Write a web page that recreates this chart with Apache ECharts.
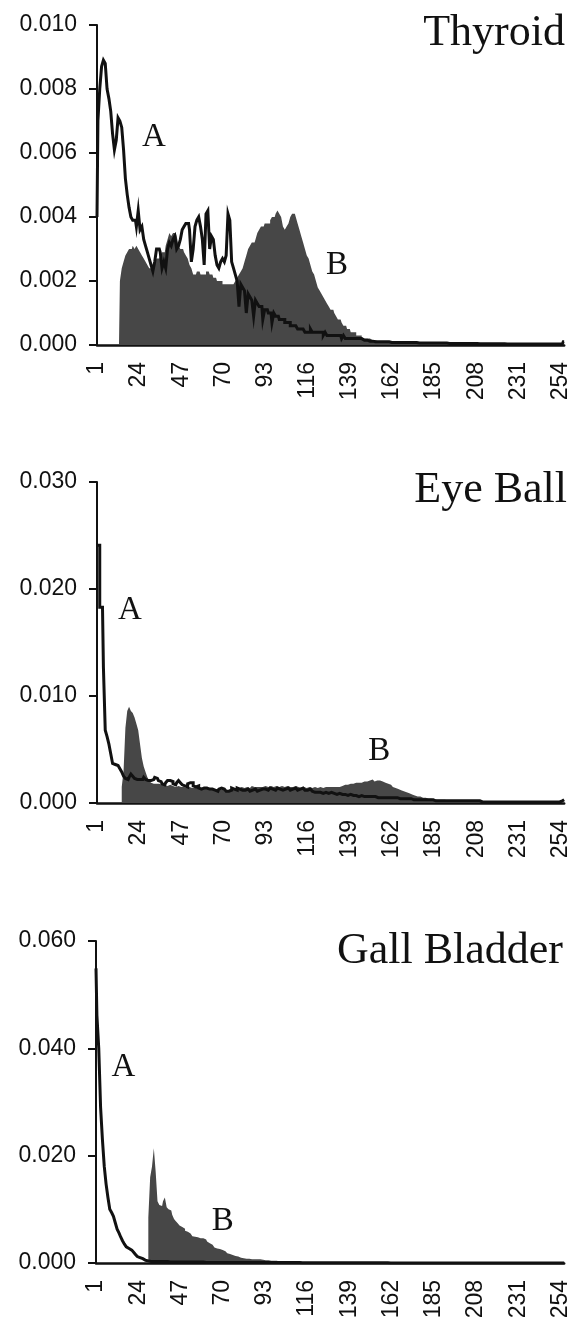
<!DOCTYPE html>
<html>
<head>
<meta charset="utf-8">
<title>Histograms A / B</title>
<script src="https://cdn.jsdelivr.net/npm/echarts/dist/echarts.min.js"></script>
<style>
  html, body { margin: 0; padding: 0; background: #fff; }
  #chart { width: 572px; height: 1330px; }
</style>
</head>
<body>
<div id="chart"></div>
<script>
// Grey-level bins 1..256; every 23rd bin is labelled (1, 24, 47, ... 254).
const bins = Array.from({ length: 256 }, (_, i) => String(i + 1));
const binLabelStep = 23;

// ---- Thyroid ----
const thyroidA = [
  0.0040,0.0070,0.0080,0.0087,0.0089,0.0088,0.0080,0.0077,0.0073,0.0066,0.0061,0.0064,0.0071,0.0070,0.0068,0.0061,
  0.0052,0.0047,0.0043,0.0040,0.0039,0.0039,0.0037,0.0042,0.0036,0.0037,0.0033,0.0031,0.0029,0.0027,0.0025,0.0023,
  0.0026,0.0030,0.0030,0.0029,0.0024,0.0026,0.0024,0.0030,0.0032,0.0031,0.0033,0.0034,0.0030,0.0031,0.0033,0.0036,
  0.0037,0.0038,0.0038,0.0036,0.0026,0.0030,0.0037,0.0039,0.0040,0.0037,0.0033,0.0025,0.0041,0.0042,0.0030,0.0034,
  0.0033,0.0028,0.0025,0.0024,0.0026,0.0027,0.0026,0.0028,0.0041,0.0039,0.0026,0.0024,0.0022,0.0020,0.0012,0.0019,
  0.0018,0.0017,0.0010,0.0016,0.0015,0.0014,0.0009,0.0014,0.0013,0.0012,0.0012,0.0008,0.0011,0.0011,0.0010,0.0010,
  0.0007,0.0010,0.0009,0.0009,0.0008,0.0008,0.0008,0.0007,0.0007,0.0007,0.0006,0.0006,0.0006,0.0006,0.0005,0.0005,
  0.0005,0.0005,0.0004,0.0004,0.0004,0.0005,0.0004,0.0004,0.0004,0.0004,0.0004,0.0004,0.0003,0.0004,0.0003,0.0003,
  0.0003,0.0003,0.0003,0.0003,0.0003,0.0003,0.0002,0.0003,0.0002,0.0002,0.0002,0.0002,0.0002,0.0002,0.0002,0.0002,
  0.0002,0.00015,0.00015,0.00015,0.00015,0.00012,0.00012,0.00012,0.0001,0.0001,0.0001,0.0001,0.0001,0.0001,0.0001,0.0001,
  0.00008,0.00008,0.00008,0.00008,0.00008,0.00008,0.00008,0.00008,0.00008,0.00008,0.00008,0.00008,0.00008,0.00008,0.00008,0.00008,
  0.00006,0.00006,0.00006,0.00006,0.00006,0.00006,0.00006,0.00006,0.00006,0.00006,0.00006,0.00006,0.00006,0.00006,0.00006,0.00006,
  0.00005,0.00005,0.00005,0.00005,0.00005,0.00005,0.00005,0.00005,0.00005,0.00005,0.00005,0.00005,0.00005,0.00005,0.00005,0.00005,
  0.00004,0.00004,0.00004,0.00004,0.00004,0.00004,0.00004,0.00004,0.00004,0.00004,0.00004,0.00004,0.00004,0.00004,0.00004,0.00004,
  0.00003,0.00003,0.00003,0.00003,0.00003,0.00003,0.00003,0.00003,0.00003,0.00003,0.00003,0.00003,0.00003,0.00003,0.00003,0.00003,
  0.00003,0.00003,0.00003,0.00003,0.00003,0.00003,0.00003,0.00003,0.00003,0.00003,0.00003,0.00003,0.00003,0.00003,0.00003,0.0001
];
const thyroidB = [
  0,0,0,0,0,0,0,0,0,0,0,0,0,0.0020,0.0024,0.0026,
  0.0028,0.0029,0.0030,0.0030,0.0031,0.0030,0.0031,0.0030,0.0029,0.0028,0.0027,0.0026,0.0025,0.0024,0.0024,0.0025,
  0.0026,0.0027,0.0027,0.0028,0.0029,0.0029,0.0031,0.0033,0.0035,0.0034,0.0035,0.0035,0.0034,0.0031,0.0030,0.0030,
  0.0029,0.0028,0.0027,0.0025,0.0024,0.0022,0.0022,0.0023,0.0023,0.0022,0.0022,0.0022,0.0023,0.0023,0.0022,0.0022,
  0.0021,0.0021,0.0020,0.0020,0.0020,0.0019,0.0019,0.0019,0.0019,0.0019,0.0019,0.0019,0.0020,0.0021,0.0022,0.0023,
  0.0024,0.0026,0.0028,0.0030,0.0031,0.0032,0.0032,0.0033,0.0035,0.0036,0.0037,0.0037,0.0038,0.0038,0.0038,0.0039,
  0.0040,0.0040,0.0041,0.0042,0.0041,0.0040,0.0037,0.0036,0.0037,0.0038,0.0040,0.0041,0.0041,0.0040,0.0038,0.0036,
  0.0034,0.0032,0.0030,0.0028,0.0027,0.0025,0.0023,0.0022,0.0020,0.0018,0.0017,0.0016,0.0015,0.0014,0.0013,0.0012,
  0.0011,0.0011,0.0010,0.0009,0.0008,0.0008,0.0007,0.0006,0.0006,0.0005,0.0005,0.0004,0.0004,0.0004,0.0003,0.0003,
  0.0003,0.0002,0.0002,0.0002,0.0002,0.0002,0.00015,0.00015,0.00015,0.00012,0.00012,0.00012,0.0001,0.0001,0.0001,0.0001,
  0.0001,0.0001,0.0001,0.0001,0.00008,0.00008,0.00008,0.00008,0.00008,0.00008,0.00008,0.00008,0.00008,0.00008,0.00008,0.00008,
  0.00006,0.00006,0.00006,0.00006,0.00006,0.00006,0.00006,0.00006,0.00006,0.00006,0.00006,0.00006,0.00006,0.00006,0.00006,0.00006,
  0.00004,0.00004,0.00004,0.00004,0.00004,0.00004,0.00004,0.00004,0.00004,0.00004,0.00004,0.00004,0.00004,0.00004,0.00004,0.00004,
  0.00002,0.00002,0.00002,0.00002,0.00002,0.00002,0.00002,0.00002,0.00002,0.00002,0.00002,0.00002,0.00002,0.00002,0.00002,0.00002,
  0,0,0,0,0,0,0,0,0,0,0,0,0,0,0,0,
  0,0,0,0,0,0,0,0,0,0,0,0,0,0,0,0
];

// ---- Eye Ball ----
const eyeA = [
  0.0241,0.0241,0.0183,0.0183,0.0127,0.0068,0.0062,0.0055,0.0046,0.0037,0.0036,0.0035,0.0034,0.0032,0.0029,0.0025,
  0.0023,0.0022,0.0024,0.0027,0.0025,0.0023,0.0022,0.0022,0.0021,0.0022,0.0024,0.0022,0.0021,0.0021,0.0020,0.0022,
  0.0024,0.0023,0.0021,0.0020,0.0018,0.0017,0.0019,0.0021,0.0021,0.0020,0.0018,0.0017,0.0019,0.0021,0.0019,0.0017,
  0.0016,0.0015,0.0018,0.0019,0.0019,0.0016,0.0015,0.0016,0.0014,0.0013,0.0014,0.0015,0.0014,0.0013,0.0012,0.0013,
  0.0012,0.0011,0.0011,0.0013,0.0014,0.0013,0.0012,0.0011,0.0011,0.0012,0.0014,0.0013,0.0012,0.0014,0.0013,0.0012,
  0.0011,0.0012,0.0013,0.0012,0.0011,0.0012,0.0013,0.0012,0.0011,0.0012,0.0013,0.0014,0.0013,0.0012,0.0013,0.0014,
  0.0013,0.0012,0.0013,0.0014,0.0013,0.0012,0.0012,0.0013,0.0014,0.0013,0.0012,0.0013,0.0014,0.0013,0.0012,0.0013,
  0.0014,0.0013,0.0012,0.0012,0.0013,0.0012,0.0011,0.0010,0.0010,0.0011,0.0010,0.0009,0.0010,0.0010,0.0009,0.0009,
  0.0010,0.0009,0.0009,0.0008,0.0009,0.0009,0.0008,0.0008,0.0008,0.0007,0.0008,0.0007,0.0007,0.0007,0.0007,0.0006,
  0.0007,0.0006,0.0006,0.0006,0.0006,0.0006,0.0006,0.0005,0.0006,0.0005,0.0005,0.0005,0.0005,0.0005,0.0005,0.0005,
  0.0005,0.0005,0.0005,0.0005,0.0005,0.0004,0.0005,0.0004,0.0004,0.0004,0.0004,0.0004,0.0003,0.0003,0.0003,0.0003,
  0.0003,0.0003,0.0003,0.0003,0.0003,0.0003,0.0003,0.0003,0.0003,0.0002,0.0002,0.0002,0.0002,0.0002,0.0002,0.0002,
  0.0002,0.0002,0.0002,0.0002,0.0002,0.0002,0.0002,0.0002,0.0002,0.0002,0.0002,0.0002,0.0002,0.0002,0.0002,0.0002,
  0.0002,0.0002,0.0001,0.0001,0.0001,0.0001,0.0001,0.0001,0.0001,0.0001,0.0001,0.0001,0.0001,0.0001,0.0001,0.0001,
  0.0001,0.0001,0.0001,0.0001,0.0001,0.0001,0.0001,0.0001,0.0001,0.0001,0.0001,0.0001,0.0001,0.0001,0.0001,0.0001,
  0.0001,0.0001,0.0001,0.0001,0.0001,0.0001,0.0001,0.0001,0.0001,0.0001,0.0001,0.0001,0.0001,0.0001,0.0002,0.0003
];
const eyeB = [
  0,0,0,0,0,0,0,0,0,0,0,0,0,0,0.0015,0.0030,
  0.0070,0.0086,0.0090,0.0086,0.0084,0.0080,0.0074,0.0068,0.0055,0.0042,0.0034,0.0029,0.0024,0.0021,0.0019,0.0018,
  0.0018,0.0019,0.0018,0.0017,0.0018,0.0017,0.0016,0.0017,0.0017,0.0016,0.0016,0.0015,0.0016,0.0016,0.0015,0.0015,
  0.0015,0.0014,0.0015,0.0015,0.0014,0.0014,0.0015,0.0014,0.0013,0.0014,0.0014,0.0013,0.0013,0.0014,0.0013,0.0013,
  0.0012,0.0013,0.0013,0.0012,0.0013,0.0013,0.0012,0.0012,0.0013,0.0013,0.0014,0.0014,0.0013,0.0014,0.0014,0.0015,
  0.0014,0.0015,0.0015,0.0014,0.0015,0.0016,0.0015,0.0015,0.0016,0.0015,0.0015,0.0016,0.0016,0.0015,0.0016,0.0016,
  0.0015,0.0016,0.0016,0.0015,0.0015,0.0016,0.0015,0.0015,0.0016,0.0015,0.0015,0.0015,0.0016,0.0015,0.0015,0.0014,
  0.0015,0.0015,0.0014,0.0015,0.0015,0.0014,0.0014,0.0015,0.0014,0.0014,0.0015,0.0014,0.0014,0.0015,0.0015,0.0014,
  0.0015,0.0015,0.0014,0.0015,0.0015,0.0016,0.0016,0.0017,0.0017,0.0017,0.0018,0.0018,0.0018,0.0019,0.0019,0.0019,
  0.0019,0.0020,0.0020,0.0020,0.0021,0.0021,0.0022,0.0021,0.0020,0.0021,0.0021,0.0021,0.0020,0.0019,0.0018,0.0018,
  0.0017,0.0016,0.0015,0.0014,0.0013,0.0013,0.0012,0.0011,0.0011,0.0010,0.0009,0.0009,0.0008,0.0007,0.0007,0.0006,
  0.0006,0.0005,0.0005,0.0005,0.0004,0.0004,0.0004,0.0004,0.0003,0.0003,0.0003,0.0003,0.0003,0.0003,0.0003,0.0002,
  0.0002,0.0002,0.0002,0.0002,0.0002,0.0002,0.0002,0.0002,0.0002,0.0002,0.0002,0.0002,0.0002,0.0002,0.0002,0.0002,
  0.0001,0.0001,0.0001,0.0001,0.0001,0.0001,0.0001,0.0001,0.0001,0.0001,0.0001,0.0001,0.0001,0.0001,0.0001,0.0001,
  0,0,0,0,0,0,0,0,0,0,0,0,0,0,0,0,
  0,0,0,0,0,0,0,0,0,0,0,0,0,0,0,0
];

// ---- Gall Bladder ----
const gallA = [
  0.0549,0.0461,0.0400,0.0290,0.0230,0.0180,0.0147,0.0122,0.0100,0.0094,0.0087,0.0075,0.0063,0.0056,0.0048,0.0041,
  0.0035,0.0030,0.0027,0.0024,0.0023,0.0020,0.0016,0.0012,0.0010,0.0008,0.0006,0.0005,0.0004,0.0004,0.0003,0.0003,
  0.0003,0.0003,0.0003,0.0003,0.0003,0.0003,0.0003,0.0003,0.0002,0.0002,0.0002,0.0002,0.0002,0.0002,0.0002,0.0002,
  0.0002,0.0002,0.0002,0.0002,0.0002,0.0002,0.0002,0.0002,0.0002,0.0002,0.0002,0.0002,0.0001,0.0001,0.0001,0.0001,
  0.0001,0.0001,0.0001,0.0001,0.0001,0.0001,0.0001,0.0001,0.0001,0.0001,0.0001,0.0001,0.0001,0.0001,0.0001,0.0001,
  0.0001,0.0001,0.0001,0.0001,0.0001,0.0001,0.0001,0.0001,0.0001,0.0001,0.0001,0.0001,0.0001,0.0001,0.0001,0.0001,
  0.0001,0.0001,0.0001,0.0001,0.0001,0.0001,0.0001,0.0001,0.0001,0.0001,0.0001,0.0001,0.0001,0.0001,0.0001,0.0001,
  0.00005,0.00005,0.00005,0.00005,0.00005,0.00005,0.00005,0.00005,0.00005,0.00005,0.00005,0.00005,0.00005,0.00005,0.00005,0.00005,
  0.00005,0.00005,0.00005,0.00005,0.00005,0.00005,0.00005,0.00005,0.00005,0.00005,0.00005,0.00005,0.00005,0.00005,0.00005,0.00005,
  0.00005,0.00005,0.00005,0.00005,0.00005,0.00005,0.00005,0.00005,0.00005,0.00005,0.00005,0.00005,0.00005,0.00005,0.00005,0.00005,
  0,0,0,0,0,0,0,0,0,0,0,0,0,0,0,0,
  0,0,0,0,0,0,0,0,0,0,0,0,0,0,0,0,
  0,0,0,0,0,0,0,0,0,0,0,0,0,0,0,0,
  0,0,0,0,0,0,0,0,0,0,0,0,0,0,0,0,
  0,0,0,0,0,0,0,0,0,0,0,0,0,0,0,0,
  0,0,0,0,0,0,0,0,0,0,0,0,0,0,0,0
];
const gallB = [
  0,0,0,0,0,0,0,0,0,0,0,0,0,0,0,0,
  0,0,0,0,0,0,0,0,0,0,0,0,0,0.0085,0.0160,0.0180,
  0.0214,0.0170,0.0115,0.0108,0.0106,0.0115,0.0122,0.0104,0.0100,0.0098,0.0090,0.0082,0.0078,0.0074,0.0070,0.0067,
  0.0064,0.0060,0.0058,0.0055,0.0052,0.0050,0.0049,0.0048,0.0047,0.0046,0.0046,0.0045,0.0044,0.0040,0.0037,0.0034,
  0.0031,0.0029,0.0027,0.0026,0.0025,0.0024,0.0022,0.0020,0.0018,0.0017,0.0015,0.0014,0.0013,0.0012,0.0011,0.0010,
  0.0009,0.0009,0.0008,0.0008,0.0008,0.0007,0.0007,0.0007,0.0007,0.0007,0.0007,0.0006,0.0005,0.0005,0.0005,0.0004,
  0.0004,0.0004,0.0004,0.0003,0.0003,0.0003,0.0003,0.0002,0.0002,0.0002,0.0002,0.0002,0.0002,0.0002,0.0001,0.0001,
  0.0001,0.0001,0.0001,0.0001,0.0001,0.0001,0.0001,0.0001,0.0001,0.0001,0.0001,0.0001,0.0001,0.0001,0.0001,0.0001,
  0.0001,0.0001,0,0,0,0,0,0,0,0,0,0,0,0,0,0,
  0,0,0,0,0,0,0,0,0,0,0,0,0,0,0,0,
  0,0,0,0,0,0,0,0,0,0,0,0,0,0,0,0,
  0,0,0,0,0,0,0,0,0,0,0,0,0,0,0,0,
  0,0,0,0,0,0,0,0,0,0,0,0,0,0,0,0,
  0,0,0,0,0,0,0,0,0,0,0,0,0,0,0,0,
  0,0,0,0,0,0,0,0,0,0,0,0,0,0,0,0,
  0,0,0,0,0,0,0,0,0,0,0,0,0,0,0,0
];

// Panel titles, y-axis ranges and where the "A"/"B" tags sit (bin, value).
const panelNames = ['Thyroid', 'Eye Ball', 'Gall Bladder'];
const yMax = [0.010, 0.030, 0.060];
const yStep = [0.002, 0.010, 0.020];
const tagA = [['32', 0.0065], ['19', 0.0180], ['16', 0.0365]];
const tagB = [['132', 0.00250], ['155', 0.00486], ['70', 0.00770]];
const seriesA = [thyroidA, eyeA, gallA];
const seriesB = [thyroidB, eyeB, gallB];

// Layout of the three stacked plots.
const layout = [
  { grid: { left: 97, top: 25, width: 468, height: 320 }, title: { right: 7, top: 11 } },
  { grid: { left: 97, top: 482, width: 468, height: 321 }, title: { right: 5, top: 468 } },
  { grid: { left: 96, top: 941, width: 469, height: 322 }, title: { right: 9, top: 929 } }
];

const INK = '#111';
const FILL = '#474747';
const tickFont = 'Liberation Sans';
const serif = 'Liberation Serif';

const tagStyle = {
  show: true, position: 'inside', color: INK,
  fontFamily: serif, fontSize: 33
};

function tag(text, coord) {
  return {
    symbol: 'rect', symbolSize: 1,
    itemStyle: { color: 'rgba(0,0,0,0)' },
    label: Object.assign({}, tagStyle, { formatter: text }),
    data: [{ coord: coord }]
  };
}

const option = {
  animation: false,
  backgroundColor: '#fff',
  title: [], grid: [], xAxis: [], yAxis: [], series: []
};

panelNames.forEach((name, i) => {
  option.title.push(Object.assign({
    text: name, padding: 0,
    textStyle: { fontFamily: serif, fontSize: 44, fontWeight: 'normal', color: INK }
  }, layout[i].title));

  option.grid.push(Object.assign({ containLabel: false }, layout[i].grid));

  option.xAxis.push({
    type: 'category', gridIndex: i, data: bins, boundaryGap: false,
    axisLine: { lineStyle: { color: INK, width: 2.5 } },
    axisTick: { show: false },
    splitLine: { show: false },
    axisLabel: {
      interval: binLabelStep - 1, rotate: 90, margin: 17,
      fontFamily: tickFont, fontSize: 23, color: INK
    }
  });

  option.yAxis.push({
    type: 'value', gridIndex: i, min: 0, max: yMax[i], interval: yStep[i],
    axisLine: { show: true, lineStyle: { color: INK, width: 2 } },
    axisTick: { show: true, length: 8, lineStyle: { color: INK, width: 2 } },
    splitLine: { show: false },
    axisLabel: {
      margin: 20, fontFamily: tickFont, fontSize: 23, color: INK,
      formatter: v => v.toFixed(3)
    }
  });

  // B: filled histogram
  option.series.push({
    name: name + ' B', type: 'line', xAxisIndex: i, yAxisIndex: i,
    data: seriesB[i], step: 'middle', showSymbol: false, symbol: 'none',
    sampling: null, z: 2,
    lineStyle: { width: 1, opacity: 0 },
    areaStyle: { color: FILL, opacity: 1 },
    markPoint: tag('B', tagB[i])
  });

  // A: stepped outline
  option.series.push({
    name: name + ' A', type: 'line', xAxisIndex: i, yAxisIndex: i,
    data: seriesA[i], step: 'middle', showSymbol: false, symbol: 'none',
    sampling: null, z: 3,
    lineStyle: { color: INK, width: 3, join: 'miter' },
    markPoint: tag('A', tagA[i])
  });
});

const chart = echarts.init(document.getElementById('chart'), null, { renderer: 'canvas' });
chart.setOption(option);
</script>
</body>
</html>
